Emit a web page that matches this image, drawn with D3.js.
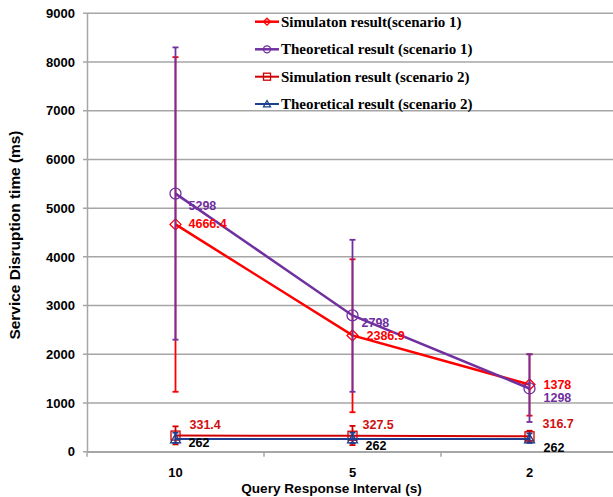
<!DOCTYPE html>
<html><head><meta charset="utf-8">
<script src="https://cdn.jsdelivr.net/npm/d3@7"></script>
<style>html,body{margin:0;padding:0;background:#fff;}svg{display:block;}</style>
</head><body>
<svg id="chart" width="613" height="497"></svg>
<script>
// ---- data ----
const categories = ["10", "5", "2"];
const yTicks = [0, 1000, 2000, 3000, 4000, 5000, 6000, 7000, 8000, 9000];
const seriesNames = [
  "Simulaton result(scenario 1)",
  "Theoretical result (scenario 1)",
  "Simulation result (scenario 2)",
  "Theoretical result (scenario 2)"
];
const sim1 = [4666.4, 2386.9, 1378];
const theo1 = [5298, 2798, 1298];
const sim2 = [331.4, 327.5, 316.7];
const theo2 = [262, 262, 262];
const sim1Err = [[1230, 8100], [810, 3950], [740, 2000]];
const theo1Err = [[2300, 8300], [1230, 4350], [610, 2000]];
const sim2Err = [[150, 520], [135, 530], [200, 430]];
const theo2Err = [[180, 390], [175, 390], [180, 375]];
const sim1Labels = ["4666.4", "2386.9", "1378"];
const theo1Labels = ["5298", "2798", "1298"];
const sim2Labels = ["331.4", "327.5", "316.7"];
const theo2Labels = ["262", "262", "262"];

// ---- styling / layout (not data) ----
const styles = [
  {color: "#FF0000", labelColor: "#FF0000", marker: "diamond", width: 2.5, dx: [13, 14, 14], dy: [0, 1, 0]},
  {color: "#7030A0", labelColor: "#7030A0", marker: "circle", width: 2.5, dx: [13, 9, 14], dy: [12, 8, 10]},
  {color: "#D00000", labelColor: "#D01010", marker: "square", width: 2, dx: [14, 10, 13], dy: [-11, -11, -12]},
  {color: "#1F3F8F", labelColor: "#000000", marker: "triangle", width: 2, dx: [13, 13, 14], dy: [4.5, 7, 9.5]}
];
const seriesVals = [sim1, theo1, sim2, theo2];
const seriesErr = [sim1Err, theo1Err, sim2Err, theo2Err];
const seriesLabels = [sim1Labels, theo1Labels, sim2Labels, theo2Labels];

const svg = d3.select("#chart");
svg.append("rect").attr("width", 613).attr("height", 497).attr("fill", "#fff");

const x = d3.scaleBand().domain(categories).range([87, 618]);
const y = d3.scaleLinear().domain([0, 9000]).range([451.7, 13.3]);
const cx = c => x(c) + x.bandwidth() / 2;
const gridColor = "#A6A6A6";
const sans = "Liberation Sans, Arial, sans-serif";

// gridlines
svg.append("g").selectAll("line").data(yTicks).join("line")
  .attr("x1", 83).attr("x2", 613)
  .attr("y1", d => y(d)).attr("y2", d => y(d))
  .attr("stroke", gridColor).attr("stroke-width", 1.5);

// y axis
const yAxis = svg.append("g").attr("transform", "translate(87,0)")
  .call(d3.axisLeft(y).tickValues(yTicks).tickSize(0).tickPadding(12).tickFormat(d3.format("d")));
yAxis.select(".domain").attr("stroke", gridColor).attr("stroke-width", 1.5);
yAxis.selectAll("text").attr("font-family", sans)
  .attr("font-weight", "bold").attr("font-size", 13).attr("fill", "#000");

// x axis
const xAxis = svg.append("g").attr("transform", `translate(0,${y(0)})`)
  .call(d3.axisBottom(x).tickSize(0).tickPadding(16));
xAxis.select(".domain").attr("stroke", gridColor).attr("stroke-width", 1.5);
xAxis.selectAll("text").attr("font-family", sans)
  .attr("font-weight", "bold").attr("font-size", 13).attr("fill", "#000");
// boundary tick marks
const bounds = categories.map(c => x(c)).concat([x(categories[categories.length - 1]) + x.bandwidth()]);
svg.append("g").selectAll("line").data(bounds).join("line")
  .attr("x1", d => d).attr("x2", d => d)
  .attr("y1", y(0)).attr("y2", y(0) + 5)
  .attr("stroke", gridColor).attr("stroke-width", 1.5);

// axis titles
svg.append("text").attr("x", 331.5).attr("y", 488).attr("text-anchor", "middle")
  .attr("dominant-baseline", "central")
  .attr("font-family", sans).attr("font-weight", "bold")
  .attr("font-size", 13.6).text("Query Response Interval (s)");
svg.append("text").attr("transform", "translate(15,235) rotate(-90)")
  .attr("text-anchor", "middle").attr("dominant-baseline", "central")
  .attr("font-family", sans).attr("font-weight", "bold")
  .attr("font-size", 14).attr("textLength", 209).attr("lengthAdjust", "spacingAndGlyphs")
  .text("Service Disruption time (ms)");

function drawMarker(g, type, px, py, color, s) {
  if (type === "diamond") {
    g.append("path").attr("d", `M${px},${py - s}L${px + s},${py}L${px},${py + s}L${px - s},${py}Z`)
      .attr("fill", "none").attr("stroke", color).attr("stroke-width", 1.3);
  } else if (type === "circle") {
    g.append("circle").attr("cx", px).attr("cy", py).attr("r", s)
      .attr("fill", "none").attr("stroke", color).attr("stroke-width", 1.3);
  } else if (type === "square") {
    g.append("rect").attr("x", px - s).attr("y", py - s).attr("width", 2 * s).attr("height", 2 * s)
      .attr("fill", "none").attr("stroke", color).attr("stroke-width", 1.3);
  } else if (type === "triangle") {
    g.append("path").attr("d", `M${px},${py - s}L${px + s},${py + s * 0.8}L${px - s},${py + s * 0.8}Z`)
      .attr("fill", "none").attr("stroke", color).attr("stroke-width", 1.3);
  }
}
const markerSize = {diamond: 5.5, circle: 5.5, square: 4.5, triangle: 5};

const line = d3.line().x((d, i) => cx(categories[i])).y(d => y(d));

seriesVals.forEach((vals, si) => {
  const st = styles[si];
  const g = svg.append("g");
  // error bars
  seriesErr[si].forEach((e, i) => {
    const px = cx(categories[i]);
    g.append("line").attr("x1", px).attr("x2", px).attr("y1", y(e[0])).attr("y2", y(e[1]))
      .attr("stroke", st.color).attr("stroke-width", 1.8);
    [e[0], e[1]].forEach(v => {
      g.append("line").attr("x1", px - 3).attr("x2", px + 3).attr("y1", y(v)).attr("y2", y(v))
        .attr("stroke", st.color).attr("stroke-width", 1.8);
    });
  });
  g.append("path").datum(vals).attr("d", line)
    .attr("fill", "none").attr("stroke", st.color).attr("stroke-width", st.width);
  vals.forEach((v, i) => drawMarker(g, st.marker, cx(categories[i]), y(v), st.color, markerSize[st.marker]));
});

// data labels
seriesVals.forEach((vals, si) => {
  const st = styles[si];
  vals.forEach((v, i) => {
    svg.append("text").attr("x", cx(categories[i]) + st.dx[i]).attr("y", y(v) + st.dy[i])
      .attr("dominant-baseline", "central")
      .attr("font-family", sans).attr("font-weight", "bold")
      .attr("font-size", 12.5).attr("fill", st.labelColor).text(seriesLabels[si][i]);
  });
});

// legend
const legendY = [21.7, 49.3, 76.7, 104];
seriesNames.forEach((name, si) => {
  const st = styles[si];
  const g = svg.append("g");
  const ly = legendY[si];
  g.append("line").attr("x1", 255).attr("x2", 279).attr("y1", ly).attr("y2", ly)
    .attr("stroke", st.color).attr("stroke-width", st.width);
  drawMarker(g, st.marker, 267, ly, st.color, 3.5);
  g.append("text").attr("x", 281).attr("y", ly).attr("dominant-baseline", "central")
    .attr("font-family", "Liberation Serif, Times New Roman, serif").attr("font-weight", "bold")
    .attr("font-size", 15).attr("fill", "#000").text(name);
});
</script>
</body></html>
